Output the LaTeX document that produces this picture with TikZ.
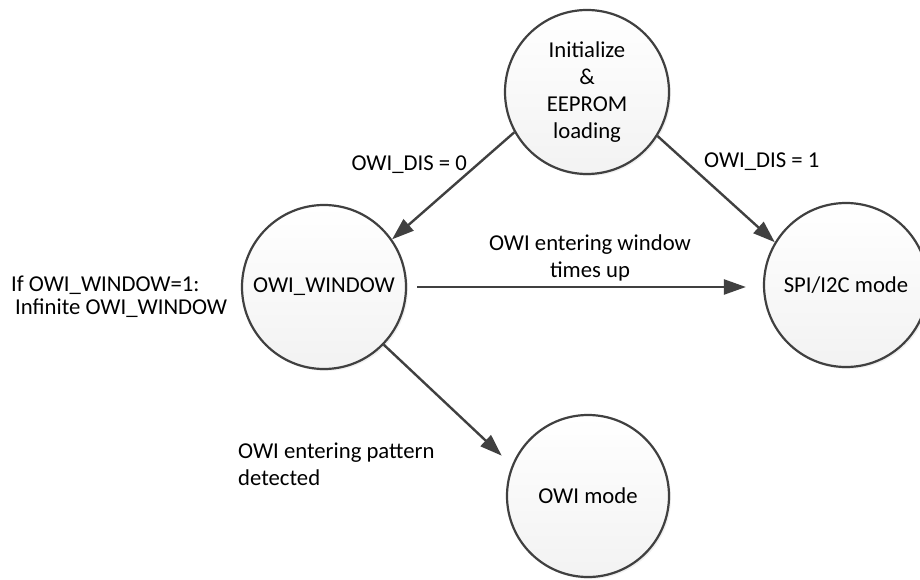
\documentclass[tikz,border=0pt]{standalone}
\usepackage{fontspec}
\setmainfont{Carlito}
\usetikzlibrary{arrows.meta}
\usetikzlibrary{shadows}
\definecolor{linegray}{HTML}{404040}

\begin{document}
\begin{tikzpicture}[x=1pt,y=1pt,
  font=\fontsize{22.7}{27}\selectfont,
  state/.style={circle, draw=linegray, line width=2.2pt, minimum size=164pt, inner sep=0pt,
    align=center, top color=white, bottom color=gray!10,
    drop shadow={opacity=0.12, shadow xshift=2pt, shadow yshift=-2pt}},
  edge/.style={draw=linegray, line width=2.4pt, -{Triangle[length=22pt,width=15pt]}},
  lbl/.style={inner sep=0pt, align=left}]
\useasboundingbox (0,0) rectangle (920,579);

\node[state] (init) at (587,487) {Initialize\\\&\\EEPROM\\loading};
\node[state] (owiw) at (324,292) {OWI\_WINDOW};
\node[state] (spi) at (846,294) {SPI/I2C mode};
\node[state, minimum size=162pt] (owimode) at (588,83) {OWI mode};

\draw[edge] (init.209) -- (owiw.35); % OWI_DIS = 0
\node[lbl, anchor=east] (dis0) at (467,414) {OWI\_DIS = 0};

\draw[edge] (init.-32) -- (spi.149); % OWI_DIS = 1
\node[lbl, anchor=west] (dis1) at (704,417) {OWI\_DIS = 1};

\draw[edge, shorten <=10pt, shorten >=17pt] (owiw.east) -- (owiw.east -| spi.west); % times up
\node[lbl, align=center] (timesup) at (590,321) {OWI entering window\\times up};

\draw[edge, shorten >=14pt] (owiw.-44) -- (owimode.158); % pattern
\node[lbl, anchor=west] (pattern) at (238,115) {OWI entering pattern\\detected};

\node[lbl, anchor=west, font=\fontsize{22.7}{23}\selectfont] (infinite) at (11,282) {If OWI\_WINDOW=1:\\\hspace*{4pt}Infinite OWI\_WINDOW};
\end{tikzpicture}
\end{document}
